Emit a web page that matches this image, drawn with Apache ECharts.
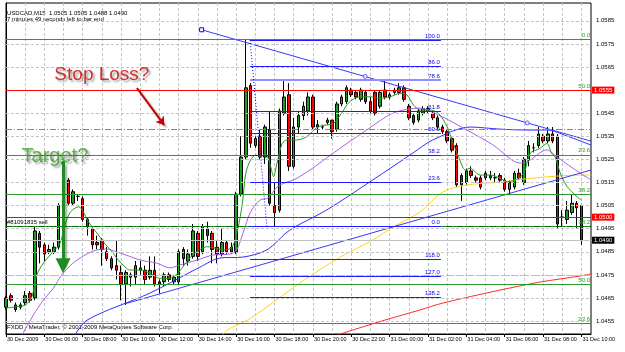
<!DOCTYPE html>
<html><head><meta charset="utf-8">
<script src="https://cdn.jsdelivr.net/npm/echarts@6/dist/echarts.min.js"></script>
<style>html,body{margin:0;padding:0;background:#fff}#c{width:625px;height:352px}</style>
</head><body><div id="c"></div><script>
// ---------- data ----------
const tickLabels = ['30 Dec 2009','30 Dec 06:00','30 Dec 08:00','30 Dec 10:00','30 Dec 12:00','30 Dec 14:00','30 Dec 16:00','30 Dec 18:00','30 Dec 20:00','30 Dec 22:00','31 Dec 00:00','31 Dec 02:00','31 Dec 04:00','31 Dec 06:00','31 Dec 08:00','31 Dec 10:00'];
const priceTicks = [1.0455,1.0465,1.0475,1.0485,1.0495,1.0505,1.0515,1.0525,1.0535,1.0545,1.0555,1.0565,1.0575,1.0585];
const opens = [1.0461,1.0466,1.0462,1.0461,1.0463,1.0467,1.0465,1.0493,1.0488,1.0485,1.0485,1.0487,1.0505,1.0516,1.0506,1.0509,1.0508,1.0499,1.0495,1.0489,1.0490,1.0485,1.0482,1.0479,1.0476,1.0471,1.0474,1.0474,1.0477,1.0477,1.0474,1.0477,1.0472,1.0472,1.0475,1.0472,1.0472,1.0486,1.0481,1.0483,1.0493,1.0485,1.0495,1.0493,1.0487,1.0484,1.0489,1.0487,1.0485,1.0510,1.0526,1.0557,1.0531,1.0535,1.0526,1.0538,1.0505,1.0503,1.0545,1.0553,1.0522,1.0539,1.0544,1.0546,1.0552,1.0540,1.0539,1.0541,1.0542,1.0538,1.0549,1.0550,1.0555,1.0554,1.0551,1.0554,1.0550,1.0554,1.0548,1.0555,1.0552,1.0555,1.0554,1.0556,1.0548,1.0544,1.0542,1.0545,1.0547,1.0545,1.0543,1.0539,1.0537,1.0534,1.0531,1.0518,1.0515,1.0520,1.0517,1.0517,1.0517,1.0517,1.0517,1.0518,1.0516,1.0512,1.0513,1.0519,1.0515,1.0525,1.0530,1.0531,1.0535,1.0533,1.0536,1.0535,1.0500,1.0499,1.0502,1.0506,1.0505];
const closes = [1.0465,1.0464,1.0460,1.0462,1.0466,1.0464,1.0494,1.0487,1.0484,1.0486,1.0487,1.0505,1.0516,1.0506,1.0511,1.0509,1.0499,1.0496,1.0488,1.0488,1.0486,1.0482,1.0478,1.0477,1.0471,1.0476,1.0475,1.0479,1.0478,1.0473,1.0477,1.0471,1.0471,1.0475,1.0473,1.0474,1.0485,1.0482,1.0484,1.0494,1.0483,1.0496,1.0492,1.0486,1.0484,1.0489,1.0485,1.0485,1.0510,1.0526,1.0556,1.0532,1.0534,1.0526,1.0539,1.0506,1.0502,1.0546,1.0552,1.0522,1.0539,1.0544,1.0548,1.0552,1.0539,1.0539,1.0539,1.0542,1.0537,1.0549,1.0552,1.0556,1.0553,1.0552,1.0555,1.0550,1.0546,1.0545,1.0554,1.0552,1.0553,1.0554,1.0556,1.0551,1.0543,1.0541,1.0546,1.0547,1.0546,1.0543,1.0539,1.0537,1.0533,1.0529,1.0514,1.0514,1.0520,1.0518,1.0516,1.0513,1.0519,1.0518,1.0517,1.0516,1.0512,1.0515,1.0519,1.0517,1.0525,1.0531,1.0530,1.0536,1.0533,1.0536,1.0533,1.0497,1.0500,1.0503,1.0506,1.0504,1.0490];
const highs = [1.0466,1.0467,1.0463,1.0463,1.0468,1.0468,1.0496,1.0494,1.0489,1.0488,1.0489,1.0506,1.0517,1.0517,1.0512,1.0510,1.0509,1.0500,1.0496,1.0492,1.0491,1.0487,1.0483,1.0490,1.0479,1.0477,1.0476,1.0481,1.0481,1.0479,1.0483,1.0483,1.0473,1.0476,1.0476,1.0475,1.0486,1.0487,1.0486,1.0497,1.0494,1.0497,1.0498,1.0494,1.0490,1.0495,1.0490,1.0489,1.0511,1.0535,1.0577,1.0558,1.0535,1.0538,1.0540,1.0546,1.0515,1.0547,1.0559,1.0558,1.0543,1.0546,1.0550,1.0554,1.0553,1.0542,1.0540,1.0543,1.0542,1.0550,1.0553,1.0557,1.0556,1.0555,1.0556,1.0555,1.0552,1.0555,1.0555,1.0559,1.0554,1.0556,1.0558,1.0557,1.0549,1.0545,1.0547,1.0548,1.0548,1.0546,1.0544,1.0540,1.0538,1.0535,1.0532,1.0519,1.0521,1.0522,1.0518,1.0518,1.0520,1.0520,1.0519,1.0519,1.0517,1.0516,1.0520,1.0521,1.0526,1.0533,1.0532,1.0539,1.0536,1.0539,1.0539,1.0536,1.0503,1.0507,1.0510,1.0507,1.0505];
const lows = [1.0460,1.0463,1.0459,1.0460,1.0462,1.0463,1.0464,1.0480,1.0481,1.0484,1.0484,1.0486,1.0504,1.0505,1.0505,1.0507,1.0498,1.0492,1.0486,1.0486,1.0479,1.0481,1.0477,1.0473,1.0464,1.0462,1.0470,1.0471,1.0475,1.0471,1.0473,1.0470,1.0467,1.0470,1.0472,1.0471,1.0471,1.0479,1.0479,1.0482,1.0481,1.0484,1.0489,1.0480,1.0480,1.0483,1.0484,1.0484,1.0484,1.0509,1.0525,1.0530,1.0530,1.0525,1.0523,1.0505,1.0496,1.0502,1.0544,1.0520,1.0521,1.0536,1.0542,1.0544,1.0538,1.0536,1.0538,1.0540,1.0534,1.0537,1.0548,1.0549,1.0552,1.0551,1.0550,1.0549,1.0545,1.0544,1.0547,1.0551,1.0551,1.0553,1.0553,1.0550,1.0542,1.0540,1.0541,1.0544,1.0545,1.0542,1.0538,1.0536,1.0532,1.0528,1.0513,1.0507,1.0514,1.0517,1.0515,1.0512,1.0516,1.0516,1.0515,1.0515,1.0511,1.0510,1.0512,1.0516,1.0514,1.0522,1.0528,1.0530,1.0532,1.0532,1.0532,1.0495,1.0496,1.0497,1.0501,1.0495,1.0488];

// moving averages: [bar position, price]
const maFast = [[0,1.04606],[2,1.04612],[4,1.04619],[5.4,1.04655],[6.4,1.04749],[7.8,1.04801],[9.2,1.04836],[10.2,1.04858],[11.3,1.04888],[12.3,1.04966],[13.3,1.05018],[14.4,1.05039],[15.2,1.05045],[16.1,1.05023],[17.2,1.04980],[18.2,1.04951],[19.3,1.04922],[20.3,1.04893],[21.3,1.04869],[22.4,1.04843],[23.4,1.04814],[24.8,1.04785],[25.8,1.04771],[27.9,1.04771],[30,1.04757],[32.1,1.04735],[34.1,1.04735],[35.8,1.04757],[37.5,1.04801],[38.5,1.04828],[40.3,1.04858],[42,1.04872],[43.8,1.04865],[45.8,1.04858],[47.2,1.04872],[48.3,1.04944],[49.3,1.05060],[50,1.05190],[51,1.05247],[52.1,1.05269],[53.1,1.05261],[54.1,1.05276],[55.2,1.05218],[55.8,1.05175],[56.5,1.05233],[57.6,1.05319],[58.6,1.05334],[60.6,1.05334],[62.7,1.05348],[65.1,1.05391],[68.3,1.05406],[69.7,1.05442],[71.7,1.05500],[73.9,1.05521],[75.9,1.05521],[78,1.05514],[80.1,1.05521],[82.2,1.05536],[83.6,1.05529],[85,1.05485],[86.4,1.05464],[88.2,1.05464],[90.2,1.05449],[92,1.05391],[93,1.05334],[94.4,1.05261],[95.8,1.05204],[96.8,1.05211],[98.9,1.05182],[101,1.05182],[103.1,1.05168],[104.5,1.05153],[106.2,1.05161],[108,1.05190],[109.3,1.05276],[111.4,1.05298],[112.8,1.05319],[113.8,1.05276],[114.5,1.05261],[115.6,1.05190],[116.8,1.05139],[118,1.05110],[119.1,1.05088],[120,1.05074]];
const maPurple = [[3,1.04477],[5.7,1.04576],[7.8,1.04641],[9.9,1.04693],[11.6,1.04749],[14,1.04801],[16.5,1.04836],[18.9,1.04858],[21,1.04862],[23.1,1.04849],[25,1.04836],[28,1.04814],[31.4,1.04801],[34.2,1.04780],[36.3,1.04793],[39.8,1.04814],[43.2,1.04836],[46.7,1.04840],[48.1,1.04858],[49.5,1.04935],[50.9,1.05018],[53,1.05074],[54.7,1.05083],[56.5,1.05130],[58.6,1.05152],[60,1.05161],[63.4,1.05204],[68.3,1.05278],[75.2,1.05377],[80.8,1.05451],[86.3,1.05472],[91.1,1.05433],[96.1,1.05377],[101.6,1.05312],[107.2,1.05234],[108.7,1.05239],[112.8,1.05291],[114.9,1.05260],[119.7,1.05191],[122,1.05161]];
const maBlue = [[14,1.04477],[16.9,1.04554],[30,1.04671],[40.5,1.04784],[44.6,1.04823],[49.4,1.04827],[54.4,1.04858],[59.2,1.04944],[66.9,1.05031],[76.5,1.05161],[84.9,1.05278],[89,1.05334],[96.8,1.05390],[103,1.05381],[108.7,1.05377],[112.8,1.05377],[117,1.05351],[122,1.05312]];
const maYellow = [[45,1.04485],[46.1,1.04511],[50.3,1.04554],[54.4,1.04611],[61.3,1.04715],[69.7,1.04827],[76.5,1.04901],[80.7,1.04957],[86.3,1.05022],[91.1,1.05109],[96.1,1.05139],[103,1.05152],[109.9,1.05169],[119.7,1.05182],[122,1.05182]];
const maRed = [[68.6,1.04485],[70.3,1.04498],[79,1.04554],[86.3,1.04598],[91.1,1.04628],[103,1.04684],[111.4,1.04719],[119.7,1.04745],[122,1.04754]];

// drawn objects
const trendDown = [[40.8,1.05811],[122,1.05329]];
const trendDownPoints = [[74.9,1.05609],[108.7,1.05408]];
const trendUp = [[24.7,1.04624],[122,1.05204]];
const fibHigh = 1.05766, fibLow = 1.04961, fibFrom = 50.9, fibTo = 90.7, fibDiagTo = 54.4;
const fibRatios = [1,0.86,0.786,0.618,0.5,0.382,0.236,0,-0.18,-0.27,-0.382];
const fibLabels = ['100.0','86.0','78.6','61.8','50.0','38.2','23.6','0.0','118.0','127.0','138.2'];
const greenLevels = [1.05766,1.0555,1.05273,1.0510,1.04961,1.04714,1.04541];
const greenLabels = ['0.0','50.0','23.6','38.2','38.2','50.0','23.6'];
const redLevels = [1.0555,1.0500];
const orangeLevels = [1.0538,1.0475];
const orderLevel = 1.0496, orderText = '#81091835 sell';
const bidPrice = 1.0490;
const stopLossNote = [20.0,1.05615], stopArrow = [[27.3,1.05559],[33.0,1.05398]];
const targetNote = [10.2,1.05264], targetArrow = [[11.9,1.05234],[11.9,1.04790]];

// ---------- chart ----------
const FONT = 'Liberation Sans';
const NCAT = 123;
const categories = [];
for (let i = 0; i < NCAT; i++) {
  const m = 4*60 + i*15, d = 30 + Math.floor(m/1440), mm = m % 1440;
  categories.push(d + ' Dec ' + String(Math.floor(mm/60)).padStart(2,'0') + ':' + String(mm%60).padStart(2,'0'));
}
const candleData = opens.map((o,i)=>[o, closes[i], lows[i], highs[i]]);
const f4 = v => v.toFixed(4);

const ml = [];
priceTicks.forEach(p => ml.push({yAxis:p, lineStyle:{color:'#c4c4c4', width:1, type:[3,2]}, label:{show:false}}));
greenLevels.forEach((p,k) => ml.push({yAxis:p, lineStyle:{color:'#2f9a2f', width:1, type:'solid'},
  label:{show:true, position:'insideEndTop', formatter:greenLabels[k], color:'#2f9a2f', fontSize:6, fontFamily:FONT, distance:1}}));
orangeLevels.forEach((p,k) => ml.push({yAxis:p, lineStyle:{color:k===0?'#ff5a2a':'#f6a58a', width:1, type:[6,2,1,2]}, label:{show:false}}));
ml.push({yAxis:orderLevel, lineStyle:{color:'#006400', width:1, type:[6,2,1,2]},
  label:{show:true, position:'insideStartTop', formatter:orderText, color:'#000', fontSize:6, fontFamily:FONT, distance:1}});
ml.push({yAxis:bidPrice, lineStyle:{color:'#c0c0c0', width:1, type:'solid'},
  label:{show:true, position:'end', formatter:f4(bidPrice), color:'#fff', backgroundColor:'#000', fontSize:6, fontFamily:FONT, padding:[1,2,0,2], distance:1}});
redLevels.forEach(p => ml.push({yAxis:p, lineStyle:{color:'#ff0000', width:1, type:'solid'},
  label:{show:true, position:'end', formatter:f4(p), color:'#fff', backgroundColor:'#ff0000', fontSize:6, fontFamily:FONT, padding:[1,2,0,2], distance:1}}));
fibRatios.forEach((r,k) => {
  const p = fibLow + r*(fibHigh-fibLow);
  const st = {color:r===0.786?'#8f8fff':'#1c1cff', width:r===0.786?2:1, type:'solid'};
  const lb = {show:true, position:'insideEndTop', formatter:fibLabels[k], color:'#0000ff', fontSize:6, fontFamily:FONT, distance:1};
  ml.push([{coord:[fibFrom,p], lineStyle:st, label:lb}, {coord:[fibTo,p], lineStyle:st, label:lb}]);
});
ml.push([{coord:[fibFrom,fibHigh], lineStyle:{color:'#0000ff', width:1, type:[1,2]}, label:{show:false}},{coord:[fibDiagTo,fibLow]}]);

const arrows = [
  [{coord:stopArrow[0], symbol:'none', lineStyle:{color:'#c80000', width:2, type:'solid', shadowColor:'rgba(0,0,0,0.35)', shadowBlur:2, shadowOffsetX:2, shadowOffsetY:2}, label:{show:false}, symbolSize:0},
   {coord:stopArrow[1], symbol:'arrow', symbolSize:8}],
  [{coord:targetArrow[0], symbol:'circle', symbolSize:4, lineStyle:{color:'#1e8c1e', width:3, type:'solid', shadowColor:'rgba(0,0,0,0.35)', shadowBlur:2, shadowOffsetX:2, shadowOffsetY:2}, label:{show:false}},
   {coord:targetArrow[1], symbol:'triangle', symbolSize:15}]
];

const maLine = (data,color) => ({type:'line', xAxisIndex:1, yAxisIndex:0, data, smooth:0.3, symbol:'none', silent:true, z:4,
  lineStyle:{color, width:1}});

const option = {
  animation:false,
  textStyle:{fontFamily:FONT},
  grid:{left:6, right:34, top:3, bottom:18, show:true, borderColor:'#000', borderWidth:1, backgroundColor:'#fff'},
  xAxis:[
    {type:'category', data:categories, boundaryGap:false,
     axisLine:{show:true, lineStyle:{color:'#000'}},
     axisTick:{show:true, length:3, interval:(i)=>i%8===0 && i<=120, lineStyle:{color:'#000'}},
     axisLabel:{interval:(i)=>i%8===0 && i<=120, formatter:(v,i)=>tickLabels[i/8] || '', align:'left', fontSize:5.5, color:'#000', margin:2, padding:[0,0,0,1]},
     splitLine:{show:true, interval:(i)=>i%4===0, lineStyle:{color:'#c4c4c4', type:[3,2]}}},
    {type:'value', min:0, max:NCAT-1, show:false}
  ],
  yAxis:{type:'value', position:'right', min:1.04494, max:1.05927,
    axisLine:{show:true, lineStyle:{color:'#000'}},
    axisTick:{show:true, length:3, customValues:priceTicks, lineStyle:{color:'#000'}},
    axisLabel:{customValues:priceTicks, formatter:f4, fontSize:6, color:'#000', margin:5},
    splitLine:{show:false}},
  graphic:[
    {type:'text', x:7, y:13, style:{text:'USDCAD,M15  1.0505 1.0505 1.0488 1.0490', fontSize:6, fontFamily:FONT, fill:'#000', verticalAlign:'middle'}},
    {type:'text', x:7, y:19, style:{text:'7 minutes 49 seconds left to bar end', fontSize:6, fontFamily:FONT, fill:'#000', verticalAlign:'middle'}},
    {type:'text', x:7, y:327, style:{text:'FXDD - MetaTrader, \u00a9 2001-2009 MetaQuotes Software Corp.', fontSize:6, fontFamily:FONT, fill:'#000', verticalAlign:'middle'}}
  ],
  series:[
    {type:'line', xAxisIndex:1, yAxisIndex:0, data:[], silent:true, z:2,
     markLine:{silent:true, symbol:'none', animation:false, precision:4, data:ml}},
    {type:'candlestick', xAxisIndex:0, yAxisIndex:0, data:candleData, barWidth:3, z:3, silent:true,
     itemStyle:{color:'#1e9e1e', color0:'#ff0000', borderColor:'#000', borderColor0:'#000', borderWidth:1}},
    maLine(maRed,'#ff2a2a'),
    maLine(maYellow,'#ffd21e'),
    maLine(maBlue,'#3030ff'),
    maLine(maPurple,'#a860e8'),
    maLine(maFast,'#229a22'),
    {type:'line', xAxisIndex:1, yAxisIndex:0, silent:true, z:4, lineStyle:{color:'#3a3aff', width:1},
     data:[{value:trendDown[0], symbol:'rect', symbolSize:4, itemStyle:{color:'#fff', borderColor:'#0000ff', borderWidth:1}}, {value:trendDown[1], symbol:'none'}], showSymbol:true},
    {type:'scatter', xAxisIndex:1, yAxisIndex:0, silent:true, z:4, data:trendDownPoints, symbol:'circle', symbolSize:4,
     itemStyle:{color:'#fff', borderColor:'#3a3aff', borderWidth:1}},
    {type:'line', xAxisIndex:1, yAxisIndex:0, silent:true, z:4, lineStyle:{color:'#3a3aff', width:1}, data:trendUp, symbol:'none'},
    {type:'line', xAxisIndex:1, yAxisIndex:0, data:[], silent:true, z:5,
     markLine:{silent:true, animation:false, data:arrows}},
    {type:'scatter', xAxisIndex:1, yAxisIndex:0, silent:true, z:6, symbolSize:1, itemStyle:{color:'rgba(0,0,0,0)'},
     data:[
      {value:stopLossNote, label:{show:true, position:'inside', formatter:'Stop Loss?', fontSize:19, fontFamily:FONT, color:'#cc0000',
        textShadowColor:'rgba(0,0,0,0.45)', textShadowBlur:2, textShadowOffsetX:2, textShadowOffsetY:2}},
      {value:targetNote, label:{show:true, position:'inside', formatter:'Target?', fontSize:20, fontFamily:FONT, color:'#3aa31e',
        textShadowColor:'rgba(0,0,0,0.45)', textShadowBlur:2, textShadowOffsetX:2, textShadowOffsetY:2}}
     ]}
  ]
};
const chart = echarts.init(document.getElementById('c'));
chart.setOption(option);
</script></body></html>
